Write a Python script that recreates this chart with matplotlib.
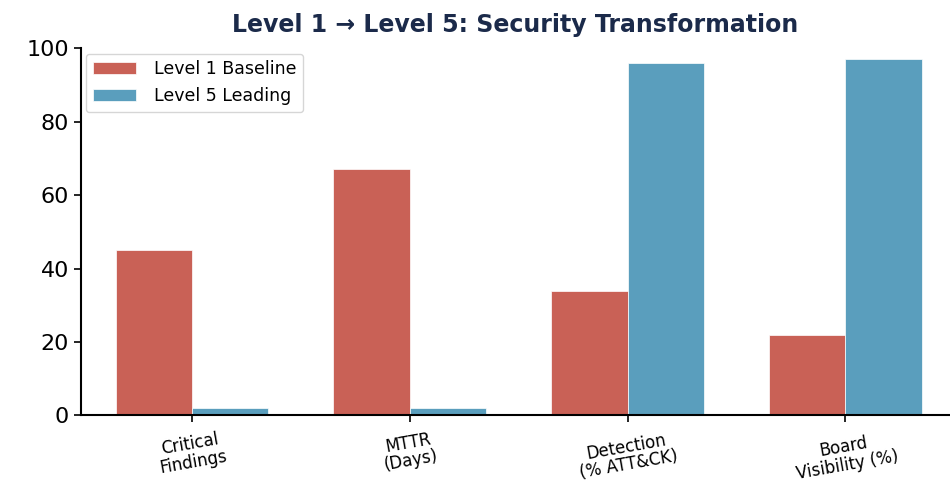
import numpy as np
import matplotlib
matplotlib.use("Agg")
import matplotlib.pyplot as plt

plt.rcParams['font.family'] = ['DejaVu Sans']

# Datos
categorias = ["Critical\nFindings", "MTTR\n(Days)", "Detection\n(% ATT&CK)", "Board\nVisibility (%)"]
nivel1 = [45, 67, 34, 22]
nivel5 = [2, 2, 96, 97]

rojo = "#C96156"
azul = "#5A9EBD"

x = np.arange(len(categorias))
ancho = 0.35

fig, ax = plt.subplots(figsize=(9.5, 4.83), dpi=100)

ax.bar(x - ancho/2, nivel1, ancho, color=rojo, label="Level 1 Baseline", edgecolor="white", linewidth=0.5)
ax.bar(x + ancho/2, nivel5, ancho, color=azul, label="Level 5 Leading", edgecolor="white", linewidth=0.5)

ax.set_title("Level 1 \u2192 Level 5: Security Transformation", fontsize=17, fontweight="bold",
             color="#1B2A4A", pad=12)

ax.set_xticks(x)
ax.set_xticklabels(categorias, rotation=10, ha="center", fontsize=12, linespacing=1.0)
ax.tick_params(axis="x", pad=5, length=5, width=1.2)
ax.tick_params(axis="y", labelsize=16, length=5, width=1.2)
ax.set_ylim(0, 100)
ax.set_xlim(-0.51, 3.48)

ax.spines["top"].set_visible(False)
ax.spines["right"].set_visible(False)
ax.spines["left"].set_linewidth(1.5)
ax.spines["bottom"].set_linewidth(1.5)

ax.legend(loc="upper left", fontsize=12.5, handlelength=2.5, handletextpad=1.0, borderaxespad=0.3)

plt.subplots_adjust(left=0.085, right=1.0, top=0.9, bottom=0.14)
plt.savefig("out.png", dpi=100)
